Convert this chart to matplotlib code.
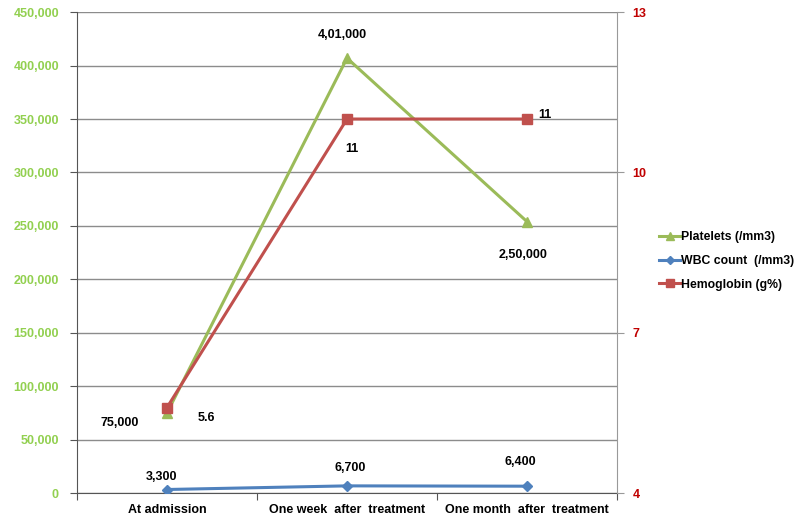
import matplotlib.pyplot as plt
from matplotlib.ticker import FuncFormatter

plt.rcParams['font.family'] = ['Liberation Sans', 'DejaVu Sans']

categories = ["At admission", "One week  after  treatment", "One month  after  treatment"]
platelets = [75000, 407000, 254000]
platelet_labels = ["75,000", "4,01,000", "2,50,000"]
wbc = [3300, 6700, 6400]
wbc_labels = ["3,300", "6,700", "6,400"]
hemoglobin = [5.6, 11, 11]
hb_labels = ["5.6", "11", "11"]

green = "#9BBB59"
blue = "#4F81BD"
red = "#C0504D"

fig = plt.figure(figsize=(8, 5.29), dpi=100)
ax = fig.add_axes([0.09625, 0.068, 0.675, 0.909])
ax2 = ax.twinx()

x = [0.5, 1.5, 2.5]
l1, = ax.plot(x, platelets, color=green, marker="^", markersize=7, linewidth=2.2,
              label="Platelets (/mm3)", zorder=3)
l2, = ax.plot(x, wbc, color=blue, marker="D", markersize=5, linewidth=2.2,
              label="WBC count  (/mm3)", zorder=3)
l3, = ax2.plot(x, hemoglobin, color=red, marker="s", markersize=7, linewidth=2.2,
               label="Hemoglobin (g%)", zorder=3)

ax.set_xlim(0, 3)
ax.set_ylim(0, 450000)
ax.set_yticks(range(0, 450001, 50000))
ax.yaxis.set_major_formatter(FuncFormatter(lambda v, p: f"{int(v):,}"))
ax.grid(axis="y", color="#8c8c8c", linewidth=1)
ax.set_axisbelow(True)
ax2.set_ylim(4, 13)
ax2.set_yticks([4, 7, 10, 13])

ax.set_xticks([0, 1, 2, 3])
ax.set_xticklabels([])
ax.set_xticks(x, minor=True)
ax.set_xticklabels(categories, minor=True, fontsize=9, fontweight="bold")
ax.tick_params(axis="x", which="minor", length=0, pad=8)
ax.tick_params(axis="x", which="major", length=5, color="#555555")

for lab in ax.get_yticklabels():
    lab.set_color("#92D050")
    lab.set_fontweight("bold")
ax.tick_params(axis="y", labelsize=9, length=5, color="#555555", pad=8)
for lab in ax2.get_yticklabels():
    lab.set_color("#C00000")
    lab.set_fontweight("bold")
ax2.tick_params(axis="y", labelsize=9, length=5, color="#999999", pad=6)

for a in (ax, ax2):
    a.spines["top"].set_visible(False)
ax.spines["left"].set_color("#555555")
ax.spines["bottom"].set_color("#555555")
ax.spines["right"].set_visible(False)
ax2.spines["left"].set_visible(False)
ax2.spines["bottom"].set_visible(False)
ax2.spines["right"].set_color("#999999")

txt = dict(textcoords="offset pixels", ha="center", va="center",
           fontsize=9, fontweight="bold")
for xi, yi, s, off in zip(x, platelets, platelet_labels, [(-47, -10), (-5, 23), (-4, -33)]):
    ax.annotate(s, (xi, yi), xytext=off, **txt)
for xi, yi, s, off in zip(x, wbc, wbc_labels, [(-5, 13), (3, 18), (-7, 24)]):
    ax.annotate(s, (xi, yi), xytext=off, **txt)
for xi, yi, s, off in zip(x, hemoglobin, hb_labels, [(39, -10), (5, -30), (18, 4)]):
    ax2.annotate(s, (xi, yi), xytext=off, **txt)

fig.legend(handles=[l1, l2, l3], loc="upper left", bbox_to_anchor=(0.818, 0.572),
           frameon=False, prop={"size": 8.8, "weight": "bold"}, markerscale=0.8,
           handlelength=1.7, handletextpad=0.1, labelspacing=0.95,
           borderaxespad=0)

fig.savefig("out.png", dpi=100)
